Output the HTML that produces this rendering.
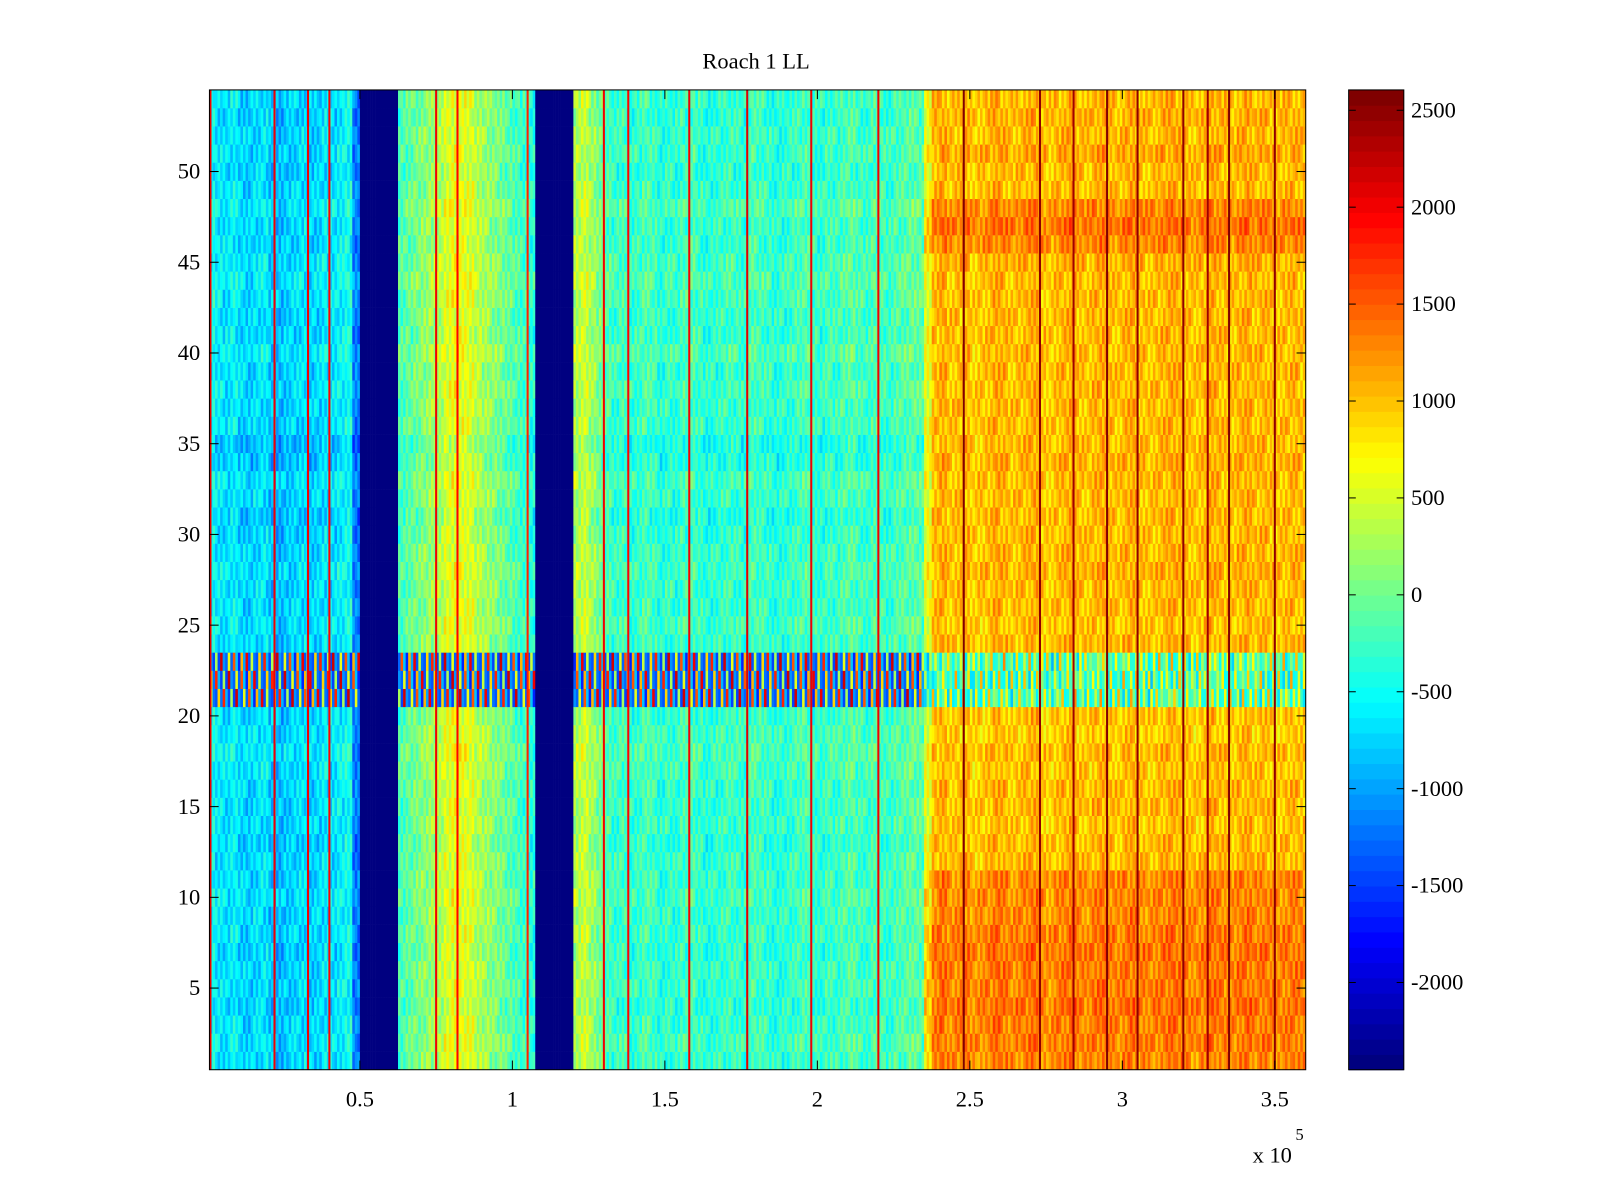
<!DOCTYPE html>
<html><head><meta charset="utf-8"><style>
body{margin:0;background:#fff;}
svg{display:block;font-family:"Liberation Serif",serif;}
</style></head><body>
<svg id="fig" width="1600" height="1200" viewBox="0 0 1600 1200">
<rect width="1600" height="1200" fill="#fff"/>
<g transform="scale(1.0217)">
<text x="740" y="67" font-size="22" text-anchor="middle">Roach 1 LL</text>
<g id="heat"></g>
<g id="axes"></g>
<g id="cbar"></g>
<text x="1226" y="1138" font-size="22">x 10</text>
<text x="1268" y="1116" font-size="16">5</text>
</g>
</svg>
<script>
// column values (each column spans 0.025e5 in x), 144 columns
const colVals = [
 -500,-650,-700,-600,-750,-800,-700,-650,-850,-900,-800,-750,-700,-800,-750,-650,-700,-600,-500,-1200,
 -2450,-2450,-2450,-2450,-2450,
 -200,-100,0,100,200,300,500,600,550,500,300,200,100,0,-100,-200,-300,-400,
 -2450,-2450,-2450,-2450,-2450,
 300,400,200,0,
 -200,-300,-250,-350,-300,-200,-250,-400,-300,-350,-250,-200,-300,-400,-350,-300,-250,-300,-350,-200,
 -250,-300,-400,-350,-300,-250,-200,-300,-350,-250,-300,-200,-150,-250,-300,-200,-250,-300,-200,-150,-100,-150,
 600,1000,1100,950,1000,1050,900,950,1000,1100,1050,950,1000,1050,1100,950,900,1000,1050,1100,
 1000,950,1050,1100,1000,950,1050,1100,1000,950,1000,1050,1100,1050,1000,950,1000,1100,1050,1000,
 950,1050,1100,1000,1050,1000,950,1000,1050,1000
];
// per-row offsets in the right (orange) region, rows 1..54
const rowOffRight = [250,300,300,350,300,300,350,300,250,250,250,0,0,-50,0,0,-50,0,-100,-50,-900,-950,-900,0,-50,0,0,50,0,0,0,0,0,50,0,0,0,0,0,0,0,0,0,0,50,250,350,250,0,0,100,0,50,0];
// per-row offsets in the left regions, rows 1..54
const rowOffLeft = [0,50,0,-50,0,0,-50,0,0,50,0,0,-50,0,0,0,50,100,50,0,0,0,0,0,50,0,0,50,0,-50,-100,0,50,-100,-150,0,0,50,0,100,0,0,50,100,50,0,0,100,0,-50,0,0,-50,0];
// texture pattern read across sub-columns
const texture = [0,260,-180,90,-300,200,-80,320,-220,50,-130,240,-40,160,-260,100,-60,300,-160,30,190,-240,130];
// noisy band rows 21-23 (values cycled across columns)
const bandRows = [21,22,23];
const bandPattern = [-1400,900,-1200,1800,-900,-1500,300,-1500,2200,-1100,-1300,600,-1300,1500,-800,-1600,1100,-1000,2000,-1400,400,-1200];
// red spike x-positions (units of 1e5) and values
const spikeX = [0.01,0.22,0.33,0.40,0.75,0.82,1.05,1.30,1.38,1.58,1.77,1.98,2.20,2.48,2.73,2.84,2.95,3.05,3.20,3.28,3.35,3.50];
const spikeV = [2000,2000,2000,1900,2000,1900,1800,2000,1900,2000,2100,2000,2000,2600,2500,2400,2600,2500,2500,2400,2600,2500];
const yTicks = [5,10,15,20,25,30,35,40,45,50];
const xTicks = [0.5,1,1.5,2,2.5,3,3.5];
const xTickLabels = ["0.5","1","1.5","2","2.5","3","3.5"];
const cTicks = [-2000,-1500,-1000,-500,0,500,1000,1500,2000,2500];

const NS="http://www.w3.org/2000/svg";
const L=205,R=1278,T=88,B=1047;
const CMIN=-2450,CMAX=2605;
const xs=v=>203+v*298.5;
const ys=r=>1047-(r-0.5)*17.76;
function jet(v){
  let t=(v-CMIN)/(CMAX-CMIN); t=Math.max(0,Math.min(1,t));
  t=Math.min(63,Math.floor(t*64))/63;
  const c=x=>Math.round(255*Math.max(0,Math.min(1,x)));
  return `rgb(${c(1.5-Math.abs(4*t-3))},${c(1.5-Math.abs(4*t-2))},${c(1.5-Math.abs(4*t-1))})`;
}
function mk(tag,attrs,parent){const e=document.createElementNS(NS,tag);for(const k in attrs)e.setAttribute(k,attrs[k]);parent.appendChild(e);return e;}
const heat=document.getElementById('heat');
const W=0.025, SUB=3;
for(let c=0;c<colVals.length;c++){
  const right=c>=94;
  for(let s=0;s<SUB;s++){
    const x0=Math.max(L,xs((c+s/SUB)*W)), x1=Math.min(R,xs((c+(s+1)/SUB)*W));
    if(x1<=x0) continue;
    const k=c*SUB+s;
    for(let r=1;r<=54;r++){
      let v=colVals[c];
      if(v>-2400){
        const tex=texture[(k*5+r)%texture.length];
        if(bandRows.includes(r)&&!right) v=bandPattern[(k+r*3)%bandPattern.length];
        else v+=(right?rowOffRight[r-1]:rowOffLeft[r-1])+tex;
        if(bandRows.includes(r)&&right) v+=bandPattern[(k+r*3)%bandPattern.length]*0.4;
      }
      const el=mk('rect',{x:x0,y:ys(r+0.5),width:x1-x0+0.3,height:17.76+0.3,fill:jet(v)},heat);
      
      
    }
  }
}
for(let i=0;i<spikeX.length;i++){
  const el=mk('rect',{x:xs(spikeX[i])-1,y:T,width:2,height:B-T,fill:jet(spikeV[i])},heat);
  
  
}
const ax=document.getElementById('axes');
mk('rect',{x:L,y:T,width:R-L,height:B-T,fill:'none',stroke:'#000','stroke-width':1},ax);
yTicks.forEach(t=>{
  const y=ys(t);
  mk('line',{x1:L,x2:L+9,y1:y,y2:y,stroke:'#000'},ax);
  mk('line',{x1:R,x2:R-9,y1:y,y2:y,stroke:'#000'},ax);
  const tx=mk('text',{x:L-9,y:y+7,'font-size':22,'text-anchor':'end'},ax);tx.textContent=t;
  
  
});
xTicks.forEach((t,i)=>{
  const x=xs(t);
  mk('line',{x1:x,x2:x,y1:B,y2:B-9,stroke:'#000'},ax);
  mk('line',{x1:x,x2:x,y1:T,y2:T+9,stroke:'#000'},ax);
  const tx=mk('text',{x:x,y:B+36,'font-size':22,'text-anchor':'middle'},ax);tx.textContent=xTickLabels[i];
  
  
});
const cb=document.getElementById('cbar');
const CL=1320,CR=1374;
const cy=v=>B-(v-CMIN)/(CMAX-CMIN)*(B-T);
for(let i=0;i<64;i++){
  const v0=CMIN+(CMAX-CMIN)*i/64, v1=CMIN+(CMAX-CMIN)*(i+1)/64;
  const el=mk('rect',{x:CL,y:cy(v1),width:CR-CL,height:cy(v0)-cy(v1)+0.5,fill:jet((v0+v1)/2)},cb);
  
  
}
mk('rect',{x:CL,y:T,width:CR-CL,height:B-T,fill:'none',stroke:'#000'},cb);
cTicks.forEach(t=>{
  const y=cy(t);
  mk('line',{x1:CL,x2:CL+7,y1:y,y2:y,stroke:'#000'},cb);
  mk('line',{x1:CR,x2:CR-7,y1:y,y2:y,stroke:'#000'},cb);
  const tx=mk('text',{x:1381,y:y+7,'font-size':22},cb);tx.textContent=t;
  
  
});
</script>
</body></html>
